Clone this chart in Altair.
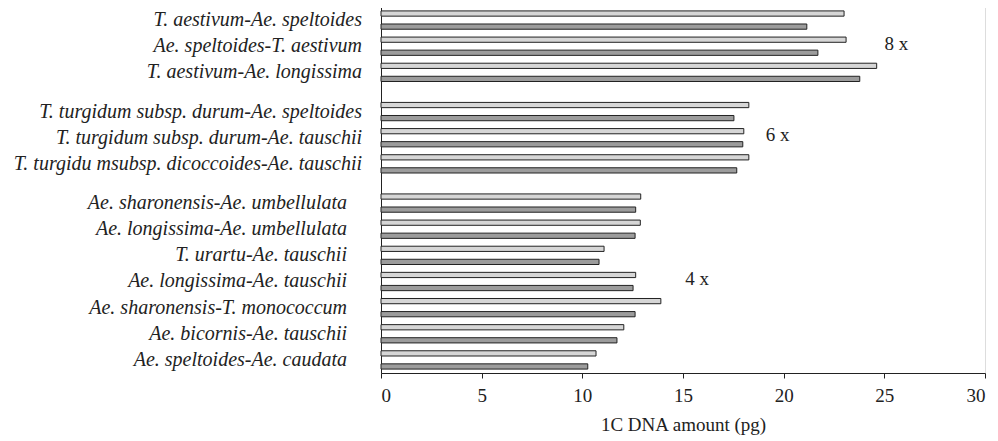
import altair as alt
import pandas as pd

categories = [
    "T. aestivum-Ae. speltoides",
    "Ae. speltoides-T. aestivum",
    "T. aestivum-Ae. longissima",
    "T. turgidum subsp. durum-Ae. speltoides",
    "T. turgidum subsp. durum-Ae. tauschii",
    "T. turgidu msubsp. dicoccoides-Ae. tauschii",
    "Ae. sharonensis-Ae. umbellulata",
    "Ae. longissima-Ae. umbellulata",
    "T. urartu-Ae. tauschii",
    "Ae. longissima-Ae. tauschii",
    "Ae. sharonensis-T. monococcum",
    "Ae. bicornis-Ae. tauschii",
    "Ae. speltoides-Ae. caudata",
]
groups = ["8x"] * 3 + ["6x"] * 3 + ["4x"] * 7
hatched_values = [23.0, 23.1, 24.62, 18.27, 18.02, 18.27, 12.9, 12.88, 11.08, 12.65, 13.9, 12.06, 10.68]
gray_values = [21.15, 21.7, 23.78, 17.53, 17.97, 17.67, 12.65, 12.62, 10.83, 12.52, 12.62, 11.72, 10.27]

annot_labels = ["8 x", "6 x", "4 x"]
annot_x = [25.6, 19.7, 15.7]
annot_rows = ["Ae. speltoides-T. aestivum", "T. turgidum subsp. durum-Ae. tauschii", "Ae. longissima-Ae. tauschii"]

# build slot keys (two bars per category, one empty slot between groups)
rows = []
domain = []
prev = None
for c, g, h, v in zip(categories, groups, hatched_values, gray_values):
    if prev is not None and g != prev:
        domain.append("gap-" + g)
    prev = g
    domain.append(c + "|h")
    domain.append(c + "|g")
    rows.append({"key": c + "|h", "cat": c, "group": g, "series": "h", "value": h})
    rows.append({"key": c + "|g", "cat": c, "group": g, "series": "g", "value": v})
df = pd.DataFrame(rows)

annot_df = pd.DataFrame({
    "label": annot_labels,
    "x": annot_x,
    "key": [r + "|h" for r in annot_rows],
})

FONT = "Liberation Serif"

yscale = alt.Scale(domain=domain, paddingInner=0.6, paddingOuter=0.3)

bars = alt.Chart(df).mark_bar(stroke="#222222", strokeWidth=1).encode(
    x=alt.X("value:Q",
            scale=alt.Scale(domain=[0, 30], nice=False),
            axis=alt.Axis(values=[0, 5, 10, 15, 20, 25, 30], title="1C DNA amount (pg)",
                          grid=False, tickSize=5, tickColor="#222222", domainColor="#222222",
                          labelFont=FONT, labelFontSize=19, labelColor="#222222", labelPadding=8,
                          titleFont=FONT, titleFontSize=19, titleFontWeight="normal",
                          titleColor="#222222", titlePadding=10)),
    y=alt.Y("key:N", scale=yscale,
            axis=alt.Axis(labels=False, ticks=False, title=None, domainColor="#222222")),
    fill=alt.Fill("series:N", scale=alt.Scale(domain=["h", "g"], range=["#d6d6d6", "#9c9c9c"]),
                  legend=None),
)

hdf = df[df["series"] == "h"]

labels_top = alt.Chart(hdf[hdf["group"] != "4x"]).mark_text(
    align="right", baseline="middle", font=FONT, fontStyle="italic", fontSize=20,
    color="#222222", dy=6.5,
).encode(x=alt.value(-19), y=alt.Y("key:N", scale=yscale), text="cat:N")

labels_bottom = alt.Chart(hdf[hdf["group"] == "4x"]).mark_text(
    align="right", baseline="middle", font=FONT, fontStyle="italic", fontSize=20,
    color="#222222", dy=6.5,
).encode(x=alt.value(-34), y=alt.Y("key:N", scale=yscale), text="cat:N")

annots = alt.Chart(annot_df).mark_text(
    align="center", baseline="middle", font=FONT, fontSize=19, color="#222222", dy=4,
).encode(x=alt.X("x:Q", scale=alt.Scale(domain=[0, 30], nice=False)),
         y=alt.Y("key:N", scale=yscale), text="label:N")

chart = alt.layer(bars, labels_top, labels_bottom, annots).properties(
    width=604, height=366,
    autosize=alt.AutoSizeParams(type="none"),
    padding={"left": 373, "top": -1, "right": 5, "bottom": 68},
).configure_view(stroke="#555555", strokeWidth=1).configure(background="white")

chart.save("out.html", embed_options={"renderer": "svg", "actions": False})
